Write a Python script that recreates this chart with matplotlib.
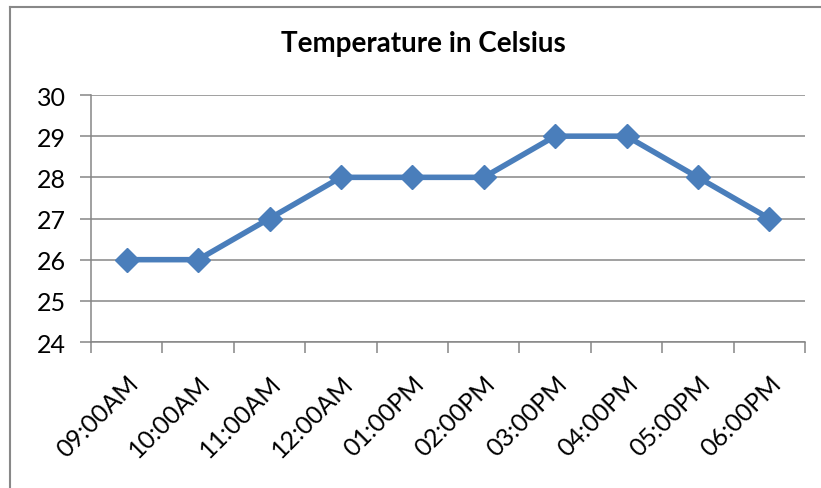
import matplotlib
matplotlib.use("Agg")
import matplotlib.pyplot as plt
from matplotlib.lines import Line2D

times = ["09:00AM", "10:00AM", "11:00AM", "12:00AM", "01:00PM",
         "02:00PM", "03:00PM", "04:00PM", "05:00PM", "06:00PM"]
temps = [26, 26, 27, 28, 28, 28, 29, 29, 28, 27]
yticks = [24, 25, 26, 27, 28, 29, 30]

plt.rcParams['font.family'] = ['Lato', 'DejaVu Sans']

fig = plt.figure(figsize=(8.21, 4.89), dpi=100)
ax = fig.add_axes([91/821, 1-343/489, (805-91)/821, (343-96)/489])

x = list(range(len(times)))
ax.plot(x, temps, color='#4A7EBB', lw=4.0, marker='D', markersize=12,
        markerfacecolor='#4A7EBB', markeredgecolor='#4A7EBB', zorder=3)

ax.set_xlim(-0.5, len(times)-0.5)
ax.set_ylim(24, 30)
ax.set_yticks(yticks)
ax.set_yticklabels([str(v) for v in yticks], fontsize=18)
ax.yaxis.grid(True, color='#868686', lw=1.1)
ax.set_axisbelow(True)

# category ticks on the boundaries, labels in the middle
ax.set_xticks([i - 0.5 for i in range(len(times)+1)])
ax.set_xticklabels([])
ax.set_xticks(x, minor=True)
ax.set_xticklabels(times, minor=True, rotation=45, ha='right', va='top',
                   rotation_mode='anchor', fontsize=18)
ax.tick_params(axis='x', which='minor', length=0, pad=21)
ax.tick_params(axis='x', which='major', length=8, width=1.1, color='#868686', direction='out')
ax.tick_params(axis='y', length=8, width=1.1, color='#868686', direction='out', pad=10)

for s in ['top', 'right']:
    ax.spines[s].set_visible(False)
for s in ['left', 'bottom']:
    ax.spines[s].set_color('#868686')
    ax.spines[s].set_linewidth(1.1)

fig.text(423/821, 1-44/489, "Temperature in Celsius", fontsize=20, fontweight='bold',
         ha='center', va='center')

# outer chart border (only left and top edges show)
fig.add_artist(Line2D([9.5/821, 9.5/821], [0, 1-7.5/489], transform=fig.transFigure,
                      color='#888888', lw=1.5))
fig.add_artist(Line2D([9.5/821, 1], [1-7.5/489, 1-7.5/489], transform=fig.transFigure,
                      color='#888888', lw=1.5))

fig.savefig("out.png", dpi=100)
